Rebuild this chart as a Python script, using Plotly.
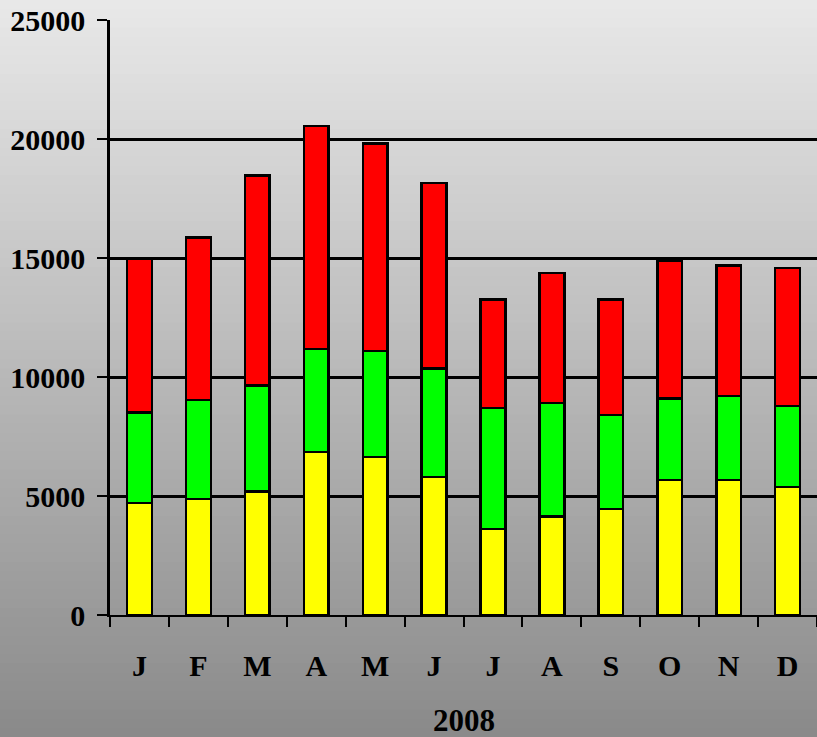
import plotly.graph_objects as go

months = ["J", "F", "M", "A", "M", "J", "J", "A", "S", "O", "N", "D"]
yellow_vals = [4700, 4870, 5180, 6850, 6640, 5800, 3620, 4140, 4450, 5680, 5680, 5370]
green_vals = [3800, 4170, 4470, 4330, 4460, 4560, 5070, 4760, 3950, 3410, 3520, 3420]
red_vals = [6450, 6820, 8810, 9370, 8720, 7790, 4560, 5480, 4850, 5790, 5480, 5790]
y_ticks = [0, 5000, 10000, 15000, 20000, 25000]
year_label = "2008"

W, H = 817, 737
ML, MR, MT, MB = 110, 0, 20, 122
PH = H - MT - MB

x_pos = list(range(len(months)))
font_family = "Liberation Serif, Times New Roman, serif"

fig = go.Figure()
for vals, col in [(yellow_vals, "#FFFF00"), (green_vals, "#00FF00"), (red_vals, "#FF0000")]:
    fig.add_trace(go.Bar(
        x=x_pos, y=vals,
        marker=dict(color=col, line=dict(color="black", width=2.5)),
        width=0.42, hoverinfo="y", showlegend=False,
    ))

# gradient background built from thin bands
shapes = []
n = 80
y0p = -MB / PH
y1p = 1 + MT / PH
for i in range(n):
    t = i / (n - 1)
    g = int(round(232 - (232 - 138) * t))
    a = y1p - (y1p - y0p) * i / n
    b = y1p - (y1p - y0p) * (i + 1) / n
    shapes.append(dict(type="rect", xref="paper", yref="paper",
                       x0=-ML / (W - ML - MR), x1=1.01, y0=b - 0.002, y1=a,
                       fillcolor=f"rgb({g},{g},{g})", line=dict(width=0), layer="below"))

fig.update_layout(
    width=W, height=H,
    margin=dict(l=ML, r=MR, t=MT, b=MB),
    barmode="stack",
    paper_bgcolor="rgb(138,138,138)",
    plot_bgcolor="rgba(0,0,0,0)",
    shapes=shapes,
    font=dict(family=font_family, size=30, color="black"),
    xaxis=dict(
        range=[-0.5, len(months) - 0.5],
        tickvals=x_pos, ticktext=[f"<b>{m}</b>" for m in months],
        ticks="", showgrid=False, zeroline=False,
        showline=True, linecolor="black", linewidth=2,
        ticklabelstandoff=23,
        tickfont=dict(family=font_family, size=30, color="black"),
        minor=dict(tickvals=[i - 0.5 for i in range(len(months) + 1)],
                   ticks="outside", ticklen=10, tickwidth=2, tickcolor="black",
                   showgrid=False),
        fixedrange=True,
    ),
    yaxis=dict(
        range=[0, 25000], tickvals=y_ticks,
        ticktext=[f"<b>{v}</b>" for v in y_ticks],
        ticks="outside", ticklen=10, tickwidth=2, tickcolor="black",
        showgrid=True, gridcolor="black", gridwidth=2.5,
        zeroline=False, showline=True, linecolor="black", linewidth=2.5,
        ticklabelstandoff=6,
        tickfont=dict(family=font_family, size=30, color="black"),
        fixedrange=True,
    ),
    annotations=[dict(text=f"<b>{year_label}</b>", xref="paper", yref="paper",
                      x=0.5, y=-(720 - (H - MB)) / PH, xanchor="center", yanchor="middle",
                      showarrow=False, font=dict(family=font_family, size=31, color="black"))],
)

fig.write_html("out.html", config={"displayModeBar": False},
               post_script="document.body.style.margin='0';document.body.style.overflow='hidden';")
